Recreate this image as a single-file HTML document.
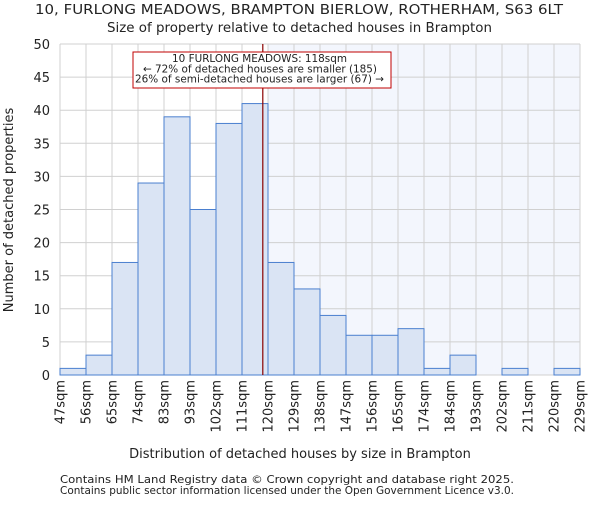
<!DOCTYPE html>
<html><head><meta charset="utf-8"><style>body{margin:0;background:#fff}svg text{font-family:"DejaVu Sans","Liberation Sans",sans-serif;fill:#222}</style></head>
<body>
<svg id="c" width="600" height="500" xmlns="http://www.w3.org/2000/svg">
<text x="35" y="14" font-size="13" textLength="528" lengthAdjust="spacingAndGlyphs">10, FURLONG MEADOWS, BRAMPTON BIERLOW, ROTHERHAM, S63 6LT</text>
<text x="107" y="32" font-size="13" textLength="385" lengthAdjust="spacingAndGlyphs">Size of property relative to detached houses in Brampton</text>
<g id="grid"></g><g id="bars"></g><g id="axes"></g>
<text x="300" y="458" font-size="13" text-anchor="middle">Distribution of detached houses by size in Brampton</text>
<text transform="translate(13,210) rotate(-90)" font-size="13" text-anchor="middle">Number of detached properties</text>
<text x="60" y="483" font-size="10.5" textLength="454" lengthAdjust="spacingAndGlyphs">Contains HM Land Registry data © Crown copyright and database right 2025.</text>
<text x="60" y="494" font-size="10.5" textLength="454" lengthAdjust="spacingAndGlyphs">Contains public sector information licensed under the Open Government Licence v3.0.</text>
</svg>
<script>
const tickLabels=["47sqm","56sqm","65sqm","74sqm","83sqm","93sqm","102sqm","111sqm","120sqm","129sqm","138sqm","147sqm","156sqm","165sqm","174sqm","184sqm","193sqm","202sqm","211sqm","220sqm","229sqm"];
const counts=[1,3,17,29,39,25,38,41,17,13,9,6,6,7,1,3,0,1,0,1];
const yTicks=[0,5,10,15,20,25,30,35,40,45,50];
const markerBin=7.8;
const NS="http://www.w3.org/2000/svg";
const X0=60,X1=580,Y0=375,Y1=44,n=counts.length;
const bw=(X1-X0)/n;
const xs=i=>X0+i*bw, ys=v=>Y0-(v/50)*(Y0-Y1);
function mk(p,t,a){const e=document.createElementNS(NS,t);for(const k in a)e.setAttribute(k,a[k]);p.appendChild(e);return e;}
const grid=document.getElementById('grid'),bars=document.getElementById('bars'),axes=document.getElementById('axes');
const sh=mk(grid,'rect',{x:xs(8),y:Y1,width:X1-xs(8),height:Y0-Y1,fill:'#f3f6fd'});


for(let i=0;i<=n;i++){mk(grid,'line',{x1:xs(i),x2:xs(i),y1:Y1,y2:Y0,stroke:'#d0d0d0'});
 const t=mk(axes,'text',{transform:`translate(${xs(i)+4.5},380) rotate(-90)`,'font-size':13,'text-anchor':'end'});t.textContent=tickLabels[i];
 
 }
yTicks.forEach(v=>{mk(grid,'line',{x1:X0,x2:X1,y1:ys(v),y2:ys(v),stroke:'#d0d0d0'});
 const t=mk(axes,'text',{x:50,y:ys(v)+5,'font-size':13,'text-anchor':'end'});t.textContent=v;
 
 });
counts.forEach((v,i)=>{if(!v)return;const r=mk(bars,'rect',{x:xs(i),y:ys(v),width:bw,height:Y0-ys(v),fill:'#dae4f4',stroke:'#4a7fcf','stroke-width':1});
 
 });
const ml=mk(axes,'line',{x1:xs(markerBin),x2:xs(markerBin),y1:Y1,y2:Y0,stroke:'#8b0000','stroke-width':1.2});


const bx=mk(axes,'rect',{x:133,y:52,width:258,height:36,fill:'#fff',stroke:'#c00000'});


const annText=["10 FURLONG MEADOWS: 118sqm","← 72% of detached houses are smaller (185)","26% of semi-detached houses are larger (67) →"];
const annX=[172,143,135],annW=[175,234,249];
annText.forEach((s,k)=>{const t=mk(axes,'text',{x:annX[k],y:62+k*10.3,'font-size':10.5,textLength:annW[k],lengthAdjust:'spacingAndGlyphs'});t.textContent=s;
 
 });
</script>
</body></html>
